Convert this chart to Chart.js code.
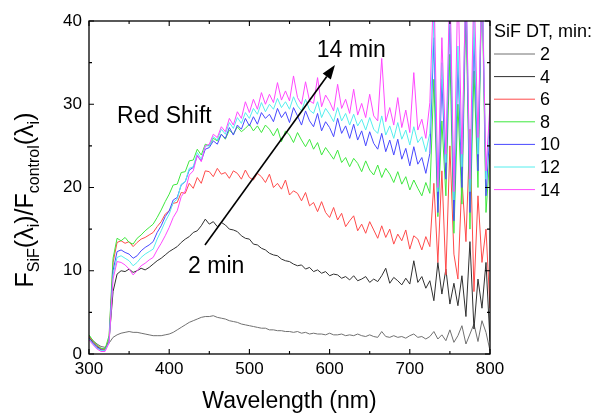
<!DOCTYPE html>
<html><head><meta charset="utf-8">
<script src="https://cdn.jsdelivr.net/npm/chart.js@4"></script>
<style>html,body{margin:0;padding:0;background:#fff;}#wrap{width:597px;height:414px;}</style>
</head><body><div id="wrap"><canvas id="c" width="597" height="414"></canvas></div>
<script>
const wavelength = [300,305,310,315,320,325,330,335,340,345,350,355,360,365,370,375,380,385,390,395,400,405,410,415,420,425,430,435,440,445,450,455,460,465,470,475,480,485,490,495,500,505,510,515,520,525,530,535,540,545,550,555,560,565,570,575,580,585,590,595,600,605,610,615,620,625,630,635,640,645,650,655,660,665,670,675,680,685,690,695,700,705,710,715,720,725,730,735,740,745,750,755,760,765,770,775,780,785,790,795,800];

const series2 = [2.2,1.6,1.2,0.9,0.8,1.3,2.0,2.3,2.5,2.6,
2.7,2.6,2.6,2.5,2.4,2.3,2.2,2.2,2.2,2.3,
2.4,2.6,2.9,3.2,3.5,3.8,4.0,4.2,4.4,4.5,
4.5,4.6,4.4,4.3,4.2,4.0,3.9,3.8,3.6,3.5,
3.4,3.3,3.2,3.1,3.1,2.9,2.9,2.8,2.8,2.7,
2.7,2.6,2.7,2.5,2.6,2.4,2.5,2.4,2.4,2.3,
2.5,2.3,2.3,2.4,2.2,2.3,2.2,2.4,2.2,2.1,
2.3,2.1,2.0,2.7,2.1,2.0,2.2,2.0,2.1,1.9,
2.2,2.4,2.0,2.1,1.8,2.1,2.7,1.8,2.3,1.6,
2.9,1.4,2.2,3.4,1.2,2.4,3.6,1.5,4.0,2.6,
0.4];

const series4 = [2.0,1.4,0.9,0.6,0.6,1.6,7.5,9.6,10.0,9.9,
10.2,9.8,10.0,10.3,10.1,10.4,10.8,11.2,11.5,11.9,
12.3,12.6,12.9,13.4,13.8,14.1,14.6,14.8,15.4,16.2,
15.6,15.9,15.3,15.8,15.5,15.0,14.9,14.7,14.2,13.9,
13.8,13.2,13.1,12.7,12.5,12.1,11.9,11.8,11.4,11.2,
11.1,10.8,10.6,10.7,10.2,10.4,9.9,10.1,9.7,9.9,
9.4,9.6,9.5,9.1,9.3,8.9,9.4,8.8,9.0,9.3,
8.6,9.0,8.7,9.4,10.3,8.5,9.2,8.8,8.3,9.1,
8.4,11.2,8.6,9.3,7.9,8.8,6.4,11.0,7.2,10.2,
6.0,8.5,5.8,9.4,4.5,13.5,3.0,9.0,5.5,11.0,
1.5];

const series6 = [2.1,1.5,1.0,0.6,0.5,1.8,11.0,13.4,13.6,13.3,
13.5,12.9,13.4,13.8,14.0,14.3,14.6,15.3,15.9,16.8,
17.2,18.1,18.2,19.4,19.3,20.5,19.9,21.2,20.5,22.0,
21.9,21.3,22.3,21.6,21.8,21.1,22.0,21.7,21.0,22.1,
21.2,20.9,21.7,21.3,20.6,21.6,20.0,20.5,19.8,20.9,
19.1,19.6,19.3,18.4,19.4,17.8,18.2,17.1,18.3,17.0,
16.4,17.6,16.1,16.9,15.3,16.0,16.6,14.8,15.6,14.5,
15.9,14.9,13.9,15.4,14.0,15.0,13.2,14.4,13.6,14.9,
12.6,14.2,13.8,12.5,14.1,12.9,20.5,11.0,22.0,9.5,
25.0,12.0,9.0,21.0,13.5,27.0,7.5,19.0,11.0,15.0,
5.5];

const series8 = [2.3,1.6,1.1,0.7,0.6,2.2,11.5,13.9,13.6,14.0,
13.4,13.2,13.9,14.3,14.8,15.2,15.6,16.4,17.3,18.3,
19.2,20.3,20.4,21.8,21.9,23.2,23.3,24.6,23.9,25.2,
25.0,25.9,25.6,26.4,25.8,26.9,26.4,27.3,26.7,27.1,
27.6,26.8,27.4,26.6,27.5,27.0,26.2,27.1,25.5,26.8,
26.3,25.4,26.6,25.7,24.9,25.8,24.6,25.4,23.9,24.8,
24.1,23.4,24.5,23.0,23.6,22.5,23.5,22.9,21.9,23.2,
22.1,21.5,22.7,21.2,22.3,21.6,20.6,21.9,20.4,21.3,
19.7,20.9,19.9,19.0,20.6,19.3,33.0,16.5,28.0,19.0,
36.0,14.5,30.0,18.0,42.0,15.0,34.0,20.0,45.0,17.0,
24.0];

const series10 = [1.9,1.3,0.8,0.5,0.4,1.5,10.0,12.3,12.5,12.2,
12.0,11.5,11.8,12.4,12.8,13.1,13.5,14.6,15.4,16.5,
17.2,18.5,18.8,20.3,20.7,22.1,22.4,23.8,23.2,24.6,
24.8,25.6,25.2,26.4,25.9,27.2,26.3,27.5,27.0,28.3,
27.4,28.5,27.6,29.0,28.3,28.8,27.9,29.5,28.4,29.1,
27.8,29.6,28.6,27.5,29.2,28.0,27.3,28.9,26.8,27.9,
27.2,26.1,28.3,26.5,27.4,25.9,27.6,25.7,26.8,25.0,
26.7,25.3,24.6,26.5,24.3,25.7,23.9,25.8,23.4,24.7,
22.6,24.9,22.8,23.6,21.7,24.1,38.0,17.0,33.0,21.0,
41.0,16.0,35.0,20.0,44.0,17.0,38.0,22.0,46.0,19.0,
27.0];

const series12 = [1.8,1.2,0.7,0.4,0.4,1.4,9.5,11.6,11.8,11.5,
11.2,10.6,11.0,11.6,12.0,12.3,12.6,13.8,14.8,15.9,
16.8,18.2,18.6,20.4,20.7,22.3,22.5,24.2,23.4,25.0,
25.0,26.1,25.7,27.0,26.4,27.8,27.1,28.4,27.7,29.0,
28.3,29.5,28.8,30.2,29.1,30.0,29.4,30.7,29.6,30.3,
29.4,30.9,29.8,29.2,30.6,29.3,28.9,30.3,28.4,29.5,
28.8,27.9,29.6,28.0,28.9,27.5,28.8,27.4,28.2,26.9,
28.4,27.0,26.5,28.6,26.3,27.4,25.9,27.8,25.8,26.9,
25.1,27.3,25.4,26.1,24.3,26.5,40.0,19.5,35.0,23.0,
43.0,18.5,37.0,22.5,46.0,19.5,40.0,24.0,47.0,21.0,
29.0];

const series14 = [1.7,1.1,0.6,0.3,0.3,1.3,9.0,11.1,11.0,10.7,
10.2,9.5,10.0,10.6,10.9,11.3,11.6,12.5,13.3,14.2,
15.2,16.4,17.2,18.9,19.6,21.5,22.0,23.9,23.1,25.0,
25.2,26.4,26.0,27.3,26.7,28.3,27.5,29.1,28.3,30.3,
29.0,30.6,29.4,31.4,30.0,31.2,30.2,32.6,30.5,31.6,
30.4,33.4,30.8,30.0,32.7,30.4,30.1,33.2,29.7,31.1,
30.3,29.2,32.4,29.5,30.6,28.9,31.8,28.7,30.1,28.4,
31.2,28.6,28.0,35.5,27.9,29.6,27.5,30.8,27.2,29.3,
26.6,33.8,26.9,28.2,25.9,30.2,45.0,20.0,38.0,24.0,
45.0,19.5,45.0,24.0,45.0,21.0,45.0,26.0,45.0,22.0,
30.0];

const seriesLabels = ['2','4','6','8','10','12','14'];
const seriesValues = [series2, series4, series6, series8, series10, series12, series14];
const seriesColors = ['#707070','#303030','#ff4a4a','#3ee83e','#4848ff','#55eeee','#ff48ff'];
const legendTitle = 'SiF DT, min:';
const xMajorTicks = [300,400,500,600,700,800];
const xMinorTicks = [350,450,550,650,750];
const yMajorTicks = [0,10,20,30,40];
const yMinorTicks = [5,15,25,35];
const xTitle = 'Wavelength (nm)';
const annotationTexts = [
  {text:'Red Shift', x:335, y:27.7},
  {text:'14 min', x:584, y:35.7},
  {text:'2 min', x:423.5, y:9.7}
];
const arrowFrom = {x:444.6, y:13.1};
const arrowTo = {x:606.7, y:34.7};

const FONT = '"Liberation Sans", Arial, sans-serif';

const datasets = seriesLabels.map((lab, i) => ({
  label: lab,
  data: wavelength.map((w, k) => ({x: w, y: seriesValues[i][k]})),
  borderColor: seriesColors[i],
  backgroundColor: seriesColors[i],
  borderWidth: 1,
  pointRadius: 0,
  tension: 0,
  fill: false,
  order: seriesLabels.length - i
}));

const framePlugin = {
  id: 'frame',
  afterDraw(chart) {
    const ctx = chart.ctx, a = chart.chartArea;
    const xs = chart.scales.x, ys = chart.scales.y;
    ctx.save();
    ctx.strokeStyle = '#000';
    ctx.lineWidth = 1.3;
    ctx.strokeRect(a.left, a.top, a.right - a.left, a.bottom - a.top);
    ctx.lineWidth = 1.1;
    ctx.beginPath();
    const tickX = (v, len) => { const p = xs.getPixelForValue(v);
      ctx.moveTo(p, a.bottom); ctx.lineTo(p, a.bottom - len);
      ctx.moveTo(p, a.top); ctx.lineTo(p, a.top + len); };
    const tickY = (v, len) => { const p = ys.getPixelForValue(v);
      ctx.moveTo(a.left, p); ctx.lineTo(a.left + len, p);
      ctx.moveTo(a.right, p); ctx.lineTo(a.right - len, p); };
    xMajorTicks.forEach(v => tickX(v, 5));
    xMinorTicks.forEach(v => tickX(v, 3));
    yMajorTicks.forEach(v => tickY(v, 5));
    yMinorTicks.forEach(v => tickY(v, 3));
    ctx.stroke();

    ctx.fillStyle = '#000';
    ctx.font = '23px ' + FONT;
    ctx.textBaseline = 'alphabetic';
    ctx.textAlign = 'left';
    annotationTexts.forEach(t => ctx.fillText(t.text, xs.getPixelForValue(t.x), ys.getPixelForValue(t.y)));
    const x0 = xs.getPixelForValue(arrowFrom.x), y0 = ys.getPixelForValue(arrowFrom.y);
    const x1 = xs.getPixelForValue(arrowTo.x), y1 = ys.getPixelForValue(arrowTo.y);
    const ang = Math.atan2(y1 - y0, x1 - x0);
    const hl = 14, hw = 5;
    const bx = x1 - hl * Math.cos(ang), by = y1 - hl * Math.sin(ang);
    ctx.lineWidth = 1.6;
    ctx.beginPath(); ctx.moveTo(x0, y0); ctx.lineTo(bx, by); ctx.stroke();
    ctx.beginPath();
    ctx.moveTo(x1, y1);
    ctx.lineTo(bx + hw * Math.sin(ang), by - hw * Math.cos(ang));
    ctx.lineTo(bx - hw * Math.sin(ang), by + hw * Math.cos(ang));
    ctx.closePath(); ctx.fill();

    ctx.font = '23px ' + FONT;
    ctx.textAlign = 'center';
    ctx.fillText(xTitle, (a.left + a.right) / 2, 408);

    const parts = [['F',0],['SiF',1],['(',0],['\u03BB',0],['i',1],[')',0],['/',0],['F',0],['control',1],['(',0],['\u03BB',0],['i',1],[')',0]];
    const mainF = '25px ' + FONT, subF = '16px ' + FONT;
    let total = 0;
    parts.forEach(p => { ctx.font = p[1] ? subF : mainF; total += ctx.measureText(p[0]).width; });
    ctx.save();
    ctx.translate(33, 200 + total / 2);
    ctx.rotate(-Math.PI / 2);
    ctx.textAlign = 'left';
    let cx = 0;
    parts.forEach(p => { ctx.font = p[1] ? subF : mainF; ctx.fillText(p[0], cx, p[1] ? 6 : 0); cx += ctx.measureText(p[0]).width; });
    ctx.restore();

    ctx.font = '18px ' + FONT;
    ctx.textAlign = 'left';
    ctx.textBaseline = 'alphabetic';
    ctx.fillText(legendTitle, 494, 37);
    ctx.textBaseline = 'middle';
    seriesLabels.forEach((lab, i) => {
      const yy = 54 + i * 22.6;
      ctx.strokeStyle = seriesColors[i];
      ctx.lineWidth = 1;
      ctx.beginPath(); ctx.moveTo(494, yy); ctx.lineTo(535, yy); ctx.stroke();
      ctx.fillStyle = '#000';
      ctx.fillText(lab, 540, yy + 1);
    });
    ctx.restore();
  }
};

new Chart(document.getElementById('c'), {
  type: 'line',
  data: { datasets },
  options: {
    responsive: false,
    animation: false,
    devicePixelRatio: 1,
    layout: { padding: { left: 0, right: 107, top: 21, bottom: 0 } },
    plugins: { legend: { display: false }, tooltip: { enabled: false } },
    scales: {
      x: {
        type: 'linear', min: 300, max: 800,
        afterBuildTicks: s => { s.ticks = xMajorTicks.map(v => ({value: v})); },
        ticks: { font: { family: FONT, size: 17 }, color: '#000', padding: 5, maxRotation: 0 },
        grid: { display: false, drawTicks: false },
        border: { display: false },
        afterFit: s => { s.height = 60; }
      },
      y: {
        type: 'linear', min: 0, max: 40,
        afterBuildTicks: s => { s.ticks = yMajorTicks.map(v => ({value: v})); },
        ticks: { font: { family: FONT, size: 17 }, color: '#000', padding: 7 },
        grid: { display: false, drawTicks: false },
        border: { display: false },
        afterFit: s => { s.width = 89; }
      }
    }
  },
  plugins: [framePlugin]
});
</script></body></html>
